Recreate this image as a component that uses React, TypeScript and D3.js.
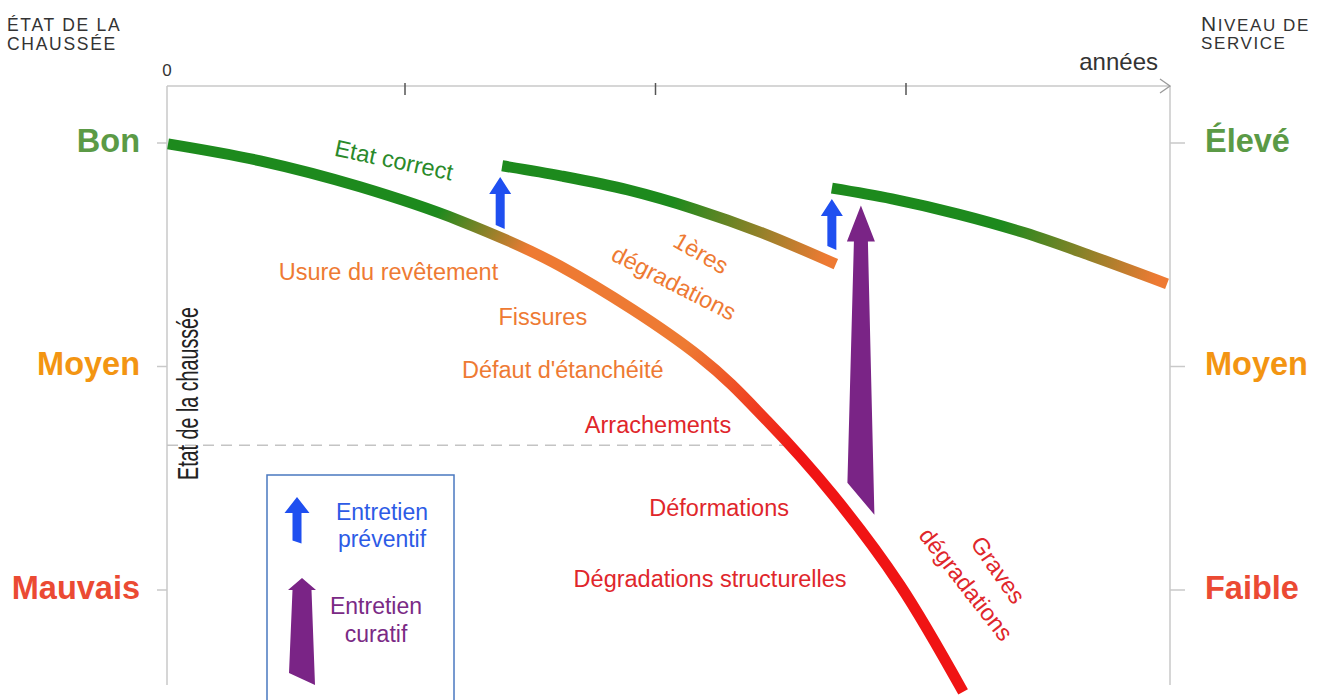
import React from "react";
import * as d3 from "d3";

const WIDTH = 1327;
const HEIGHT = 700;
const FRAME = { left: 167, right: 1170, top: 86, bottom: 685 };
const FONT = "'Liberation Sans', Arial, Helvetica, sans-serif";

// horizontal: years, vertical: condition index (Bon = 100, Moyen = 50, Mauvais = 0)
const YEAR_TICKS = [5, 10, 15];
const LEVELS = [100, 50, 0];
const LEFT_LABELS = ["Bon", "Moyen", "Mauvais"];
const RIGHT_LABELS = ["Élevé", "Moyen", "Faible"];
const LEVEL_COLORS = ["#5b9a46", "#f39512", "#eb4a33"];
const ALERT_LEVEL = 32.4;

const GREEN = "#1d8a1d";
const ORANGE = "#ee7a33";
const RED = "#f01414";

// [year, condition]
const CURVE_NO_WORK = [
  [0.27, 99.8], [2.11, 96.0], [4.1, 90.2], [6.1, 82.6], [8.09, 72.5],
  [10.89, 52.1], [12.23, 37.8], [13.54, 21.3], [14.88, 1.1], [16.14, -22.8],
];
const CURVE_FIRST_WORK = [[6.94, 94.9], [8.13, 92.6], [9.45, 89.5], [10.79, 85.2], [12.13, 79.9], [13.6, 72.9]];
const CURVE_SECOND_WORK = [[13.52, 89.9], [14.72, 87.5], [16.04, 84.1], [17.37, 79.9], [18.71, 74.7], [20.21, 68.5]];

const STOPS_NO_WORK = [[0, GREEN], [0.27, GREEN], [0.37, ORANGE], [0.56, ORANGE], [0.72, RED], [1, RED]];
const STOPS_WORK = [[0, GREEN], [0.5, GREEN], [0.97, ORANGE], [1, ORANGE]];

// maintenance arrows: year, bottom and tip condition
const PREVENTIVE = [
  { year: 6.9, from: 81.2, to: 92.4 },
  { year: 13.52, from: 76.5, to: 87.5 },
];
const CURATIVE = [{ year: 14.1, from: 20.4, to: 86.0 }];

const ANNOTATIONS = [
  { text: "Etat correct", year: 4.78, cond: 96.2, rot: 12, color: "#2a8a2a" },
  { text: "Usure du revêtement", year: 4.67, cond: 71.1, rot: 0, color: ORANGE },
  { text: "Fissures", year: 7.75, cond: 61.1, rot: 0, color: ORANGE },
  { text: "Défaut d'étanchéité", year: 8.15, cond: 49.2, rot: 0, color: ORANGE },
  { text: "1ères", year: 10.91, cond: 75.4, rot: 30, color: ORANGE },
  { text: "dégradations", year: 10.37, cond: 68.7, rot: 27, color: ORANGE },
  { text: "Arrachements", year: 10.05, cond: 36.9, rot: 0, color: "#e0262b" },
  { text: "Déformations", year: 11.27, cond: 18.3, rot: 0, color: "#e0262b" },
  { text: "Dégradations structurelles", year: 11.09, cond: 2.5, rot: 0, color: "#e0262b" },
  { text: "Graves", year: 16.84, cond: 4.5, rot: 55, color: "#e0262b" },
  { text: "dégradations", year: 16.2, cond: 1.3, rot: 52, color: "#e0262b" },
];

const x = d3.scaleLinear().domain([0, 20]).range([154.5, 1156.5]);
const y = d3.scaleLinear().domain([0, 100]).range([590, 143]);

const line = d3
  .line<number[]>()
  .x((d) => x(d[0]))
  .y((d) => y(d[1]))
  .curve(d3.curveCatmullRom.alpha(0.5));

function arrowPath(cx, tip, base, headW, headH, shaftTop, shaftBottom, slant) {
  const neck = tip + headH;
  return [
    `M${cx},${tip}`,
    `L${cx + headW / 2},${neck}`,
    `L${cx + shaftTop / 2},${neck}`,
    `L${cx + shaftBottom / 2},${base + slant / 2}`,
    `L${cx - shaftBottom / 2},${base - slant / 2}`,
    `L${cx - shaftTop / 2},${neck}`,
    `L${cx - headW / 2},${neck}`,
    "Z",
  ].join(" ");
}

function Curve({ id, data, stops }) {
  const first = data[0];
  const last = data[data.length - 1];
  return (
    <g>
      <defs>
        <linearGradient
          id={id}
          gradientUnits="userSpaceOnUse"
          x1={x(first[0])}
          y1={y(first[1])}
          x2={x(last[0])}
          y2={y(last[1])}
        >
          {stops.map(([o, c], i) => (
            <stop key={i} offset={o} stopColor={c} />
          ))}
        </linearGradient>
      </defs>
      <path d={line(data) || ""} fill="none" stroke={`url(#${id})`} strokeWidth={11} />
    </g>
  );
}

export default function App() {
  const axisColor = "#c9c9c9";
  return (
    <svg
      width={WIDTH}
      height={HEIGHT}
      style={{ position: "absolute", left: 0, top: 0, background: "#fff" }}
      fontFamily={FONT}
    >
      {/* frame */}
      <line x1={FRAME.left} x2={FRAME.right} y1={FRAME.top} y2={FRAME.top} stroke={axisColor} strokeWidth={1.5} />
      <line x1={FRAME.left} x2={FRAME.left} y1={FRAME.top} y2={FRAME.bottom} stroke={axisColor} strokeWidth={1.5} />
      <line x1={FRAME.right} x2={FRAME.right} y1={FRAME.top} y2={FRAME.bottom} stroke={axisColor} strokeWidth={1.5} />
      <path
        d={`M${FRAME.right - 10},${FRAME.top - 7} L${FRAME.right},${FRAME.top} L${FRAME.right - 10},${FRAME.top + 7}`}
        fill="none"
        stroke="#9a9a9a"
        strokeWidth={1.3}
      />
      {YEAR_TICKS.map((t) => (
        <line key={t} x1={x(t)} x2={x(t)} y1={FRAME.top - 3} y2={FRAME.top + 9} stroke="#555" strokeWidth={1.5} />
      ))}
      <text x={FRAME.left} y={76} textAnchor="middle" fontSize={17} fill="#333">0</text>
      <text x={FRAME.right - 12} y={70} textAnchor="end" fontSize={24} fill="#333">années</text>

      {/* level ticks and labels */}
      {LEVELS.map((lv, i) => (
        <g key={lv}>
          <line x1={FRAME.left - 10} x2={FRAME.left} y1={y(lv)} y2={y(lv)} stroke={axisColor} strokeWidth={1.5} />
          <line x1={FRAME.right} x2={FRAME.right + 15} y1={y(lv)} y2={y(lv)} stroke={axisColor} strokeWidth={1.5} />
          <text x={140} y={y(lv)} dy="0.27em" textAnchor="end" fontSize={32.5} fontWeight="bold" fill={LEVEL_COLORS[i]}>
            {LEFT_LABELS[i]}
          </text>
          <text x={1205} y={y(lv)} dy="0.27em" textAnchor="start" fontSize={32.5} fontWeight="bold" fill={LEVEL_COLORS[i]}>
            {RIGHT_LABELS[i]}
          </text>
        </g>
      ))}

      {/* headers */}
      <g fill="#333" fontSize={17.5} letterSpacing={1.7}>
        <text x={7} y={31}>ÉTAT DE LA</text>
        <text x={7} y={50}>CHAUSSÉE</text>
        <text x={1201} y={31} fontSize={17} letterSpacing={1.6}>
          <tspan fontSize={21}>N</tspan>IVEAU DE
        </text>
        <text x={1201} y={49} fontSize={17} letterSpacing={1.6}>SERVICE</text>
      </g>

      {/* alert threshold */}
      <line
        x1={FRAME.left}
        x2={x(12.6)}
        y1={y(ALERT_LEVEL)}
        y2={y(ALERT_LEVEL)}
        stroke="#c4c4c4"
        strokeWidth={1.5}
        strokeDasharray="11,7"
      />
      <text
        transform={`translate(198,${393.5}) rotate(-90)`}
        textAnchor="middle"
        fontSize={29}
        textLength={173}
        lengthAdjust="spacingAndGlyphs"
        fill="#222"
      >
        Etat de la chaussée
      </text>

      {/* curves */}
      <Curve id="g0" data={CURVE_NO_WORK} stops={STOPS_NO_WORK} />
      <Curve id="g1" data={CURVE_FIRST_WORK} stops={STOPS_WORK} />
      <Curve id="g2" data={CURVE_SECOND_WORK} stops={STOPS_WORK} />

      {/* maintenance arrows */}
      {PREVENTIVE.map((a, i) => (
        <path key={i} d={arrowPath(x(a.year), y(a.to), y(a.from), 22, 17, 9, 9, 4)} fill="#1f4ff0" />
      ))}
      {CURATIVE.map((a, i) => (
        <path key={i} d={arrowPath(x(a.year), y(a.to), y(a.from), 28, 36, 14, 27, 32)} fill="#7a2486" />
      ))}

      {/* annotations */}
      {ANNOTATIONS.map((a, i) => (
        <text
          key={i}
          transform={`translate(${x(a.year)},${y(a.cond)}) rotate(${a.rot})`}
          dy="0.35em"
          textAnchor="middle"
          fontSize={23.5}
          fill={a.color}
        >
          {a.text}
        </text>
      ))}

      {/* legend */}
      <g>
        <rect x={267} y={475} width={187} height={260} fill="#fff" stroke="#4a78c0" strokeWidth={1.5} />
        <path d={arrowPath(297, 497, 542, 25, 16, 9, 9, 3)} fill="#1f4ff0" />
        <text x={382} y={520} textAnchor="middle" fontSize={23} fill="#2d5be6">Entretien</text>
        <text x={382} y={547} textAnchor="middle" fontSize={23} fill="#2d5be6">préventif</text>
        <path d={arrowPath(302, 578, 679, 28, 12, 19, 26, 12)} fill="#7a2486" />
        <text x={376} y={614} textAnchor="middle" fontSize={23} fill="#7a2a85">Entretien</text>
        <text x={376} y={642} textAnchor="middle" fontSize={23} fill="#7a2a85">curatif</text>
      </g>
    </svg>
  );
}
